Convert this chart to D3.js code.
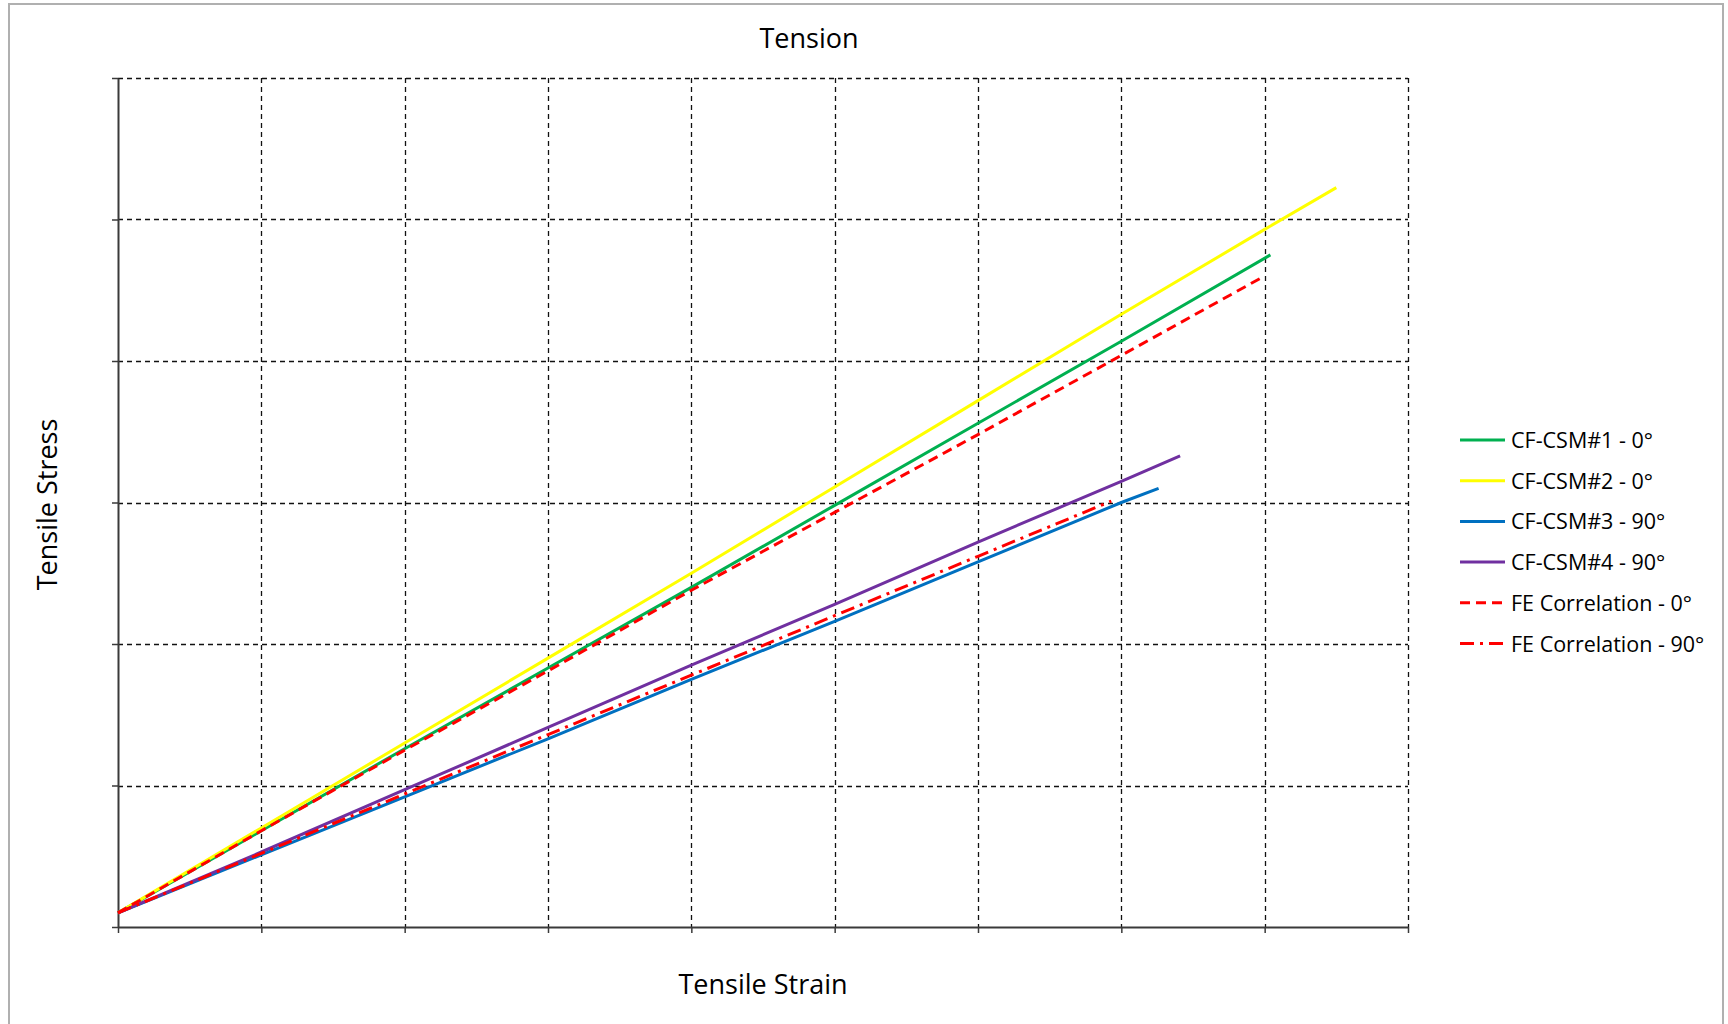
<!DOCTYPE html>
<html>
<head>
<meta charset="utf-8">
<title>Tension</title>
<script src="https://cdn.jsdelivr.net/npm/d3@7"></script>
<style>
  html, body { margin: 0; padding: 0; background: #fff; }
  svg { display: block; }
  text { font-family: "Open Sans", "DejaVu Sans", sans-serif; fill: #000; }
</style>
</head>
<body>
<svg id="chart" width="1728" height="1024"></svg>
<script>
// Grid positions along each axis (no numeric labels are shown on this chart)
const strainTicks = [0, 1, 2, 3, 4, 5, 6, 7, 8, 9];
const stressTicks = [0, 1, 2, 3, 4, 5, 6];

// Test curves: strain / stress pairs
const csm1Strain = [0, 1, 2, 3, 4, 5, 6, 7, 8.04];
const csm1Stress = [0.10, 0.68, 1.26, 1.83, 2.40, 2.98, 3.56, 4.14, 4.75];

const csm2Strain = [0, 1, 2, 3, 4, 5, 6, 7, 8, 8.5];
const csm2Stress = [0.10, 0.70, 1.30, 1.90, 2.50, 3.11, 3.72, 4.33, 4.93, 5.225];

const csm3Strain = [0, 1, 2, 3, 4, 5, 6, 7, 7.26];
const csm3Stress = [0.10, 0.51, 0.92, 1.33, 1.75, 2.16, 2.58, 3.00, 3.10];

const csm4Strain = [0, 1, 2, 3, 4, 5, 6, 7, 7.41];
const csm4Stress = [0.10, 0.53, 0.97, 1.41, 1.85, 2.28, 2.72, 3.15, 3.33];

// Finite-element predictions
const fe0Strain = [0, 1, 2, 3, 4, 5, 6, 7, 7.98];
const fe0Stress = [0.10, 0.68, 1.25, 1.81, 2.38, 2.93, 3.48, 4.04, 4.59];

const fe90Strain = [0, 1, 2, 3, 4, 5, 6, 6.93];
const fe90Stress = [0.10, 0.52, 0.94, 1.36, 1.78, 2.20, 2.62, 3.01];

const seriesNames = [
  "CF-CSM#1 - 0°", "CF-CSM#2 - 0°", "CF-CSM#3 - 90°",
  "CF-CSM#4 - 90°", "FE Correlation - 0°", "FE Correlation - 90°"
];

const series = [
  { name: seriesNames[0], x: csm1Strain, y: csm1Stress, color: "#00B050", dash: null },
  { name: seriesNames[1], x: csm2Strain, y: csm2Stress, color: "#FFFF00", dash: null },
  { name: seriesNames[2], x: csm3Strain, y: csm3Stress, color: "#0070C0", dash: null },
  { name: seriesNames[3], x: csm4Strain, y: csm4Stress, color: "#7030A0", dash: null },
  { name: seriesNames[4], x: fe0Strain,  y: fe0Stress,  color: "#FF0000", dash: "10,6" },
  { name: seriesNames[5], x: fe90Strain, y: fe90Stress, color: "#FF0000", dash: "14,6,3,6" }
];

const svg = d3.select("#chart");

// Outer chart frame
svg.append("rect")
  .attr("x", 9).attr("y", 4)
  .attr("width", 1714).attr("height", 1040)
  .attr("fill", "#fff")
  .attr("stroke", "#b0b0b0")
  .attr("stroke-width", 2);

const plot = { left: 118, top: 78, right: 1408, bottom: 927 };

const x = d3.scaleLinear().domain([0, 9]).range([plot.left, plot.right]);
const y = d3.scaleLinear().domain([0, 6]).range([plot.bottom, plot.top]);

// Crisp 1px positions for the dashed grid
const px = v => Math.round(v) + 0.5;

const grid = svg.append("g").attr("class", "grid");
grid.selectAll("line.v")
  .data(strainTicks.filter(d => d > 0))
  .join("line")
  .attr("class", "v")
  .attr("x1", d => px(x(d))).attr("x2", d => px(x(d)))
  .attr("y1", plot.top).attr("y2", plot.bottom)
  .attr("stroke", "#111").attr("stroke-width", 1.3)
  .attr("stroke-dasharray", "5,4");
grid.selectAll("line.h")
  .data(stressTicks.filter(d => d > 0))
  .join("line")
  .attr("class", "h")
  .attr("x1", plot.left).attr("x2", plot.right)
  .attr("y1", d => px(y(d))).attr("y2", d => px(y(d)))
  .attr("stroke", "#111").attr("stroke-width", 1.3)
  .attr("stroke-dasharray", "5,4");

// Axes with outward ticks and no labels
const xAxis = d3.axisBottom(x).tickValues(strainTicks).tickSize(6).tickFormat("").tickSizeOuter(0);
const yAxis = d3.axisLeft(y).tickValues(stressTicks).tickSize(6).tickFormat("").tickSizeOuter(0);

const gx = svg.append("g").attr("transform", `translate(0,${plot.bottom})`).call(xAxis);
const gy = svg.append("g").attr("transform", `translate(${plot.left},0)`).call(yAxis);
[gx, gy].forEach(g => {
  g.select(".domain").attr("stroke", "#3a3a3a").attr("stroke-width", 2);
  g.selectAll(".tick line").attr("stroke", "#3a3a3a").attr("stroke-width", 1.5);
});

// Curves
const line = d3.line()
  .x(d => x(d[0]))
  .y(d => y(d[1]));

svg.append("g").selectAll("path")
  .data(series)
  .join("path")
  .attr("d", s => line(s.x.map((v, i) => [v, s.y[i]])))
  .attr("fill", "none")
  .attr("stroke", s => s.color)
  .attr("stroke-width", 3)
  .attr("stroke-dasharray", s => s.dash)
  .attr("stroke-linecap", "butt");

// Titles
svg.append("text")
  .attr("x", 809).attr("y", 48)
  .attr("text-anchor", "middle")
  .attr("font-size", 27)
  .text("Tension");

svg.append("text")
  .attr("x", (plot.left + plot.right) / 2).attr("y", 994)
  .attr("text-anchor", "middle")
  .attr("font-size", 27)
  .text("Tensile Strain");

svg.append("text")
  .attr("transform", `translate(57,${(plot.top + plot.bottom) / 2 + 2}) rotate(-90)`)
  .attr("text-anchor", "middle")
  .attr("font-size", 27)
  .text("Tensile Stress");

// Legend
const legend = svg.append("g").attr("transform", "translate(1460,440)");
const rows = legend.selectAll("g")
  .data(series)
  .join("g")
  .attr("transform", (d, i) => `translate(0,${i * 40.7})`);
rows.append("line")
  .attr("x1", 0).attr("x2", 45)
  .attr("y1", 0).attr("y2", 0)
  .attr("stroke", d => d.color)
  .attr("stroke-width", 3)
  .attr("stroke-dasharray", d => d.dash);
rows.append("text")
  .attr("x", 51).attr("y", 8)
  .attr("font-size", 21.5)
  .text(d => d.name);
</script>
</body>
</html>
